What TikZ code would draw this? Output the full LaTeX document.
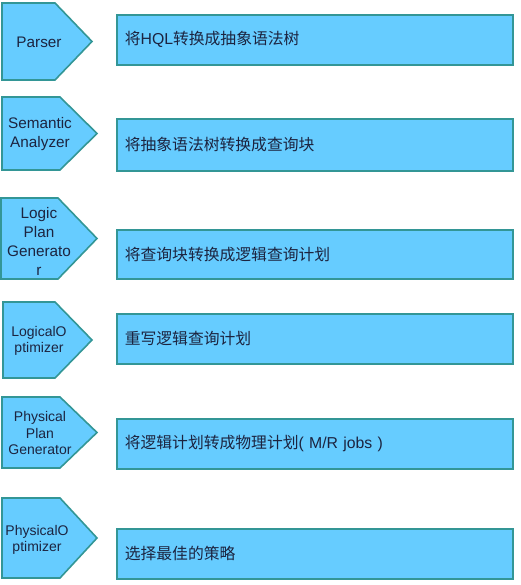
\documentclass[tikz,border=0pt]{standalone}
\usepackage{fontspec}
\setmainfont{Liberation Sans}
\newfontfamily\cjk{Noto Sans CJK SC}
\usepackage{tikz}
\usetikzlibrary{positioning}
\definecolor{boxblue}{RGB}{102, 204, 255}
\definecolor{boxedge}{RGB}{51, 150, 150}
\definecolor{ink}{RGB}{28, 36, 64}
\tikzstyle{stage} = [draw=boxedge, line width=1.6pt, fill=boxblue, line join=miter]
\tikzstyle{label} = [draw=none, fill=none, text=ink, align=center, inner sep=0pt, font=\fontsize{15.3}{19}\selectfont]
\tikzstyle{small} = [font=\fontsize{14}{16.5}\selectfont]
\tikzstyle{task}  = [draw=boxedge, line width=1.6pt, fill=boxblue, text=ink, anchor=north west, minimum width=396pt, minimum height=50pt, text width=380pt, align=left, inner sep=8pt, font=\cjk\fontsize{15.8}{18}\selectfont]

\begin{document}
\begin{tikzpicture}[x=1pt, y=-1pt]
\useasboundingbox (0,0) rectangle (520,585);

% stages =============================

% chevrons
\draw[stage] (2,3) -- (55,3) -- (92,41.5) -- (55,80) -- (2,80) -- cycle;
\draw[stage] (2,97) -- (60,97) -- (97,133.5) -- (60,170) -- (2,170) -- cycle;
\draw[stage] (1,198) -- (58,198) -- (97,238.5) -- (58,279) -- (1,279) -- cycle;
\draw[stage] (3,302) -- (55,302) -- (92,340) -- (55,378) -- (3,378) -- cycle;
\draw[stage] (2,397) -- (60,397) -- (97,432.5) -- (60,468) -- (2,468) -- cycle;
\draw[stage] (2,498) -- (60,498) -- (97,538) -- (60,578) -- (2,578) -- cycle;

% names
\node[label] (parser) at (39,42) {Parser};
\node[label] (semantic) at (40,134) {Semantic\\Analyzer};
\node[label] (logicgen) at (39,241) {Logic\\Plan\\Generato\\r};
\node[label, small] (logicopt) at (39,341) {LogicalO\\ptimizer};
\node[label, small] (physgen) at (40,433) {Physical\\Plan\\Generator};
\node[label, small] (physopt) at (37,540) {PhysicalO\\ptimizer};

% tasks
\node[task] (t1) at (116,14) {将{\rmfamily HQL}转换成抽象语法树};
\node[task, minimum height=52pt] (t2) at (116,118) {将抽象语法树转换成查询块};
\node[task, minimum height=49pt] (t3) at (116,229) {将查询块转换成逻辑查询计划};
\node[task] (t4) at (116,313) {重写逻辑查询计划};
\node[task] (t5) at (116,418) {将逻辑计划转成物理计划{\rmfamily ( M/R jobs )}};
\node[task] (t6) at (116,528) {选择最佳的策略};

\end{tikzpicture}
\end{document}
